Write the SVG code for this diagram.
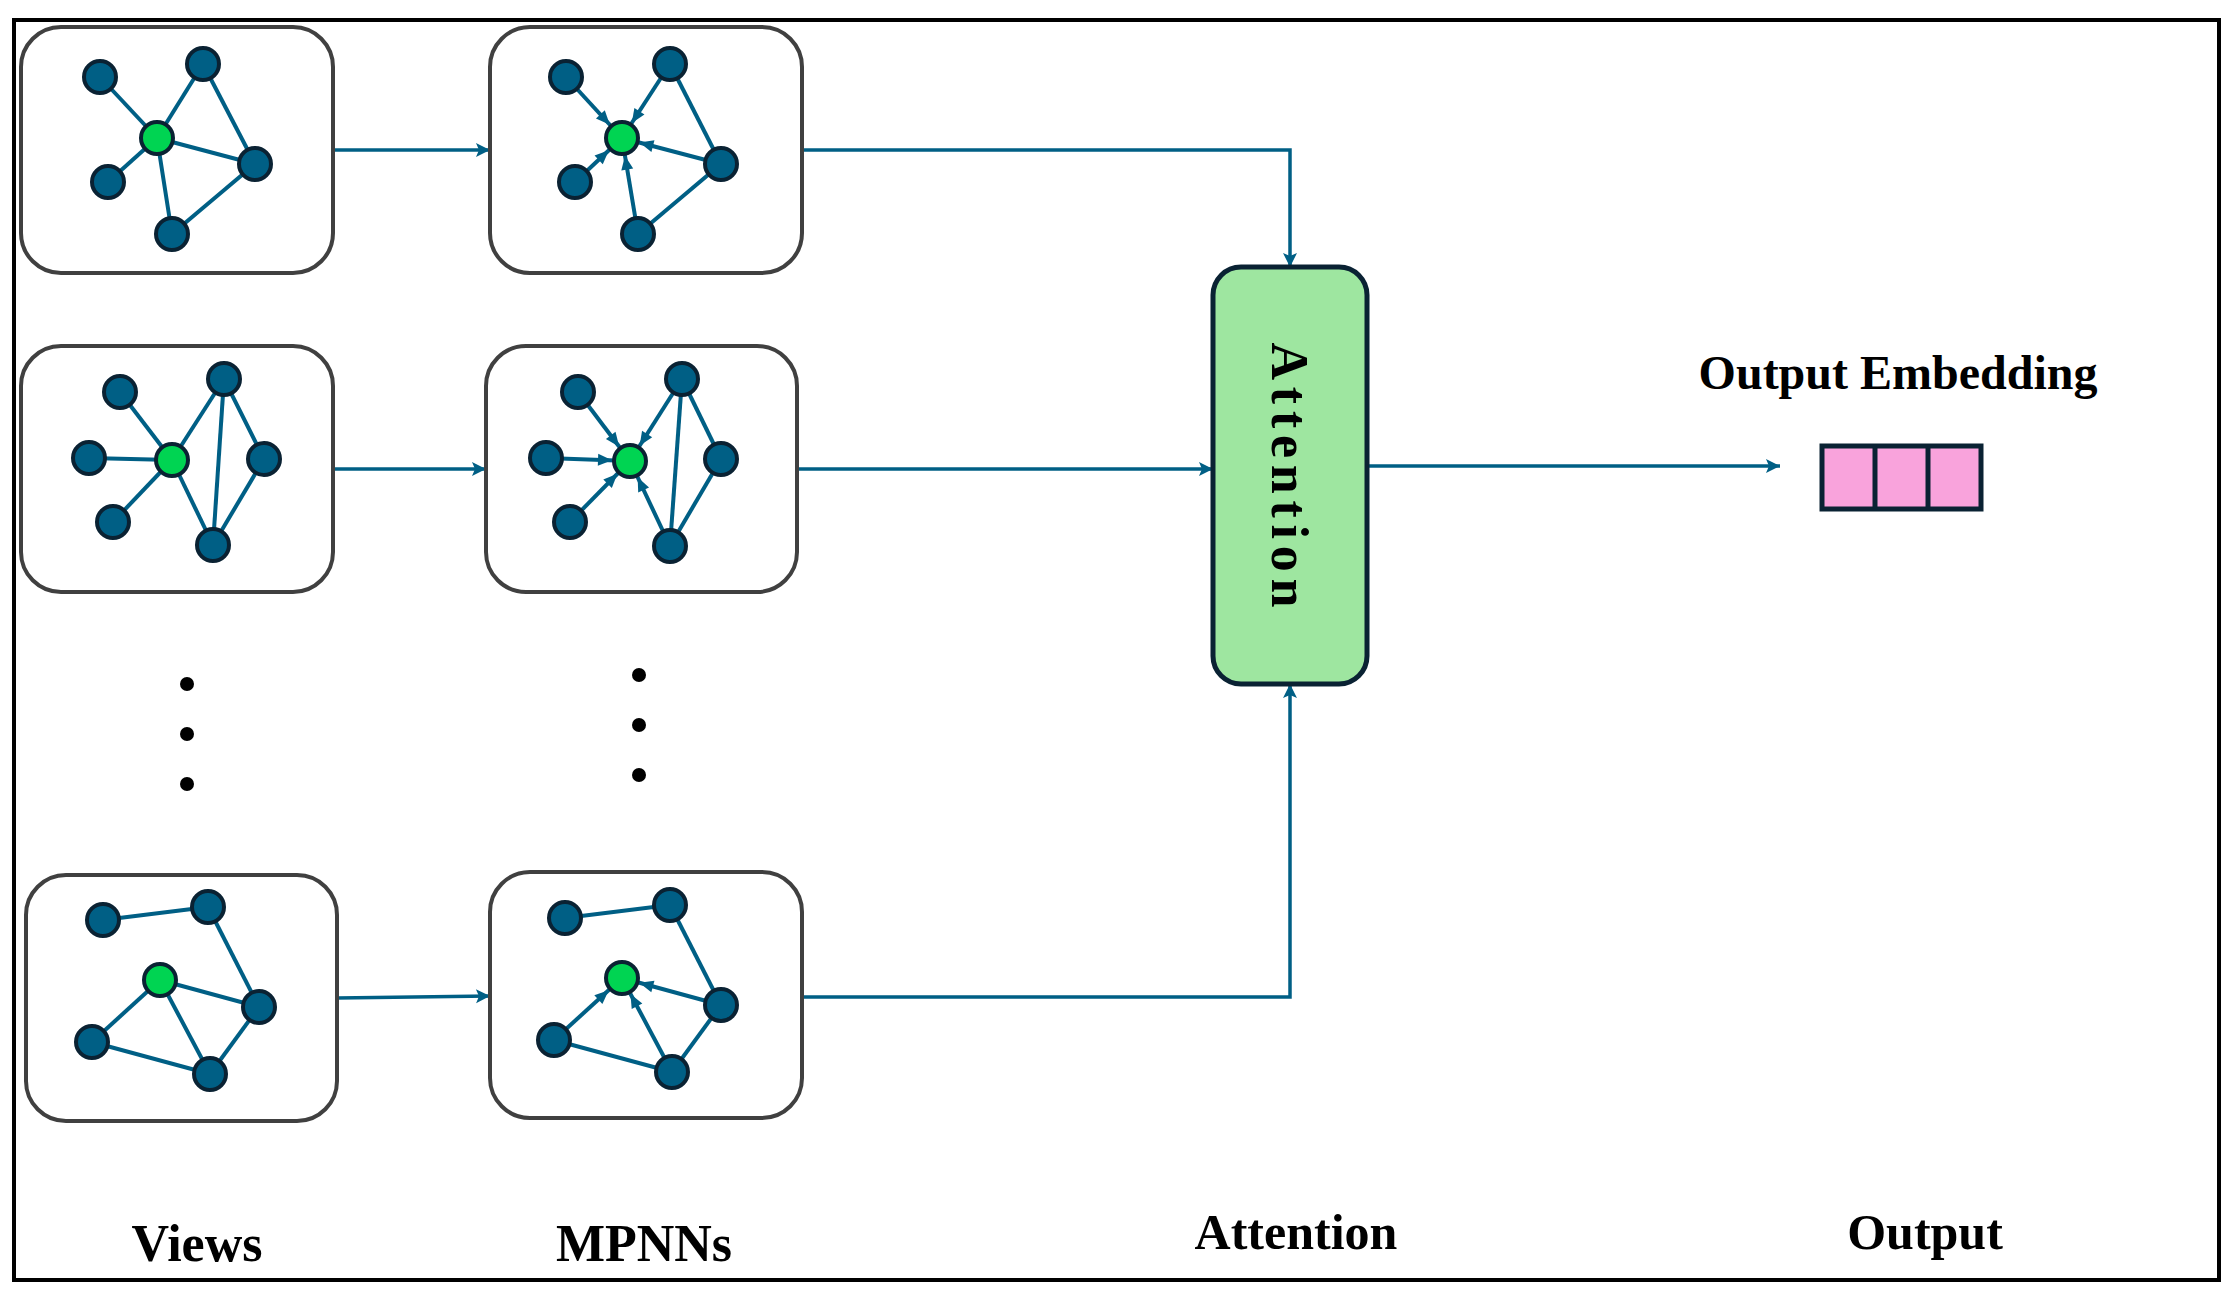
<svg xmlns="http://www.w3.org/2000/svg" width="2231" height="1293" viewBox="0 0 2231 1293">
<style>
.panel{fill:#fff;stroke:#404040;stroke-width:4}
.e{stroke:#005F85;stroke-width:4;fill:none}
.ea{stroke:#005F85;stroke-width:4;fill:none;marker-end:url(#small)}
.n{fill:#005F85;stroke:#0A2233;stroke-width:4}
.g{fill:#00D452;stroke:#0A2233;stroke-width:4}
.c{stroke:#005F85;stroke-width:3.5;fill:none;marker-end:url(#big)}
.lbl{font-family:"Liberation Serif","Times New Roman",serif;font-weight:bold;fill:#000;text-anchor:middle}
.dot{fill:#000}
</style>
<defs>
<marker id="small" markerUnits="userSpaceOnUse" markerWidth="60" markerHeight="20" refX="32" refY="6" orient="auto" overflow="visible"><path d="M0,0 L14,6 L0,12 z" fill="#005F85"/></marker>
<marker id="big" markerUnits="userSpaceOnUse" markerWidth="20" markerHeight="20" refX="14" refY="7" orient="auto" overflow="visible"><path d="M0,0 L14,7 L0,14 L3,7 z" fill="#005F85"/></marker>
</defs>
<rect x="14" y="20" width="2205" height="1260" fill="#fff" stroke="#000" stroke-width="4"/>

<g id="connectors">
<line class="c" x1="333" y1="150" x2="490" y2="150"/>
<polyline class="c" points="802,150 1290,150 1290,267"/>
<line class="c" x1="333" y1="469" x2="486" y2="469"/>
<line class="c" x1="797" y1="469" x2="1213" y2="469"/>
<line class="c" x1="337" y1="998" x2="490" y2="996"/>
<polyline class="c" points="802,997 1290,997 1290,684"/>
<line class="c" x1="1367" y1="466" x2="1780" y2="466"/>
</g>

<g id="view1">
<rect class="panel" x="21" y="27" width="312" height="246" rx="40"/>
<line class="e" x1="100" y1="77" x2="157" y2="138"/><line class="e" x1="157" y1="138" x2="203" y2="64"/><line class="e" x1="203" y1="64" x2="255" y2="164"/><line class="e" x1="157" y1="138" x2="255" y2="164"/><line class="e" x1="157" y1="138" x2="108" y2="182"/><line class="e" x1="157" y1="138" x2="172" y2="234"/><line class="e" x1="172" y1="234" x2="255" y2="164"/>
<circle class="n" cx="100" cy="77" r="16"/><circle class="n" cx="203" cy="64" r="16"/><circle class="n" cx="108" cy="182" r="16"/><circle class="n" cx="255" cy="164" r="16"/><circle class="n" cx="172" cy="234" r="16"/><circle class="g" cx="157" cy="138" r="16"/>
</g>
<g id="mpnn1">
<rect class="panel" x="490" y="27" width="312" height="246" rx="40"/>
<line class="e" x1="670" y1="64" x2="721" y2="164"/><line class="e" x1="638" y1="234" x2="721" y2="164"/>
<line class="ea" x1="566" y1="77" x2="622" y2="138"/><line class="ea" x1="670" y1="64" x2="622" y2="138"/><line class="ea" x1="721" y1="164" x2="622" y2="138"/><line class="ea" x1="575" y1="182" x2="622" y2="138"/><line class="ea" x1="638" y1="234" x2="622" y2="138"/>
<circle class="n" cx="566" cy="77" r="16"/><circle class="n" cx="670" cy="64" r="16"/><circle class="n" cx="575" cy="182" r="16"/><circle class="n" cx="721" cy="164" r="16"/><circle class="n" cx="638" cy="234" r="16"/><circle class="g" cx="622" cy="138" r="16"/>
</g>

<g id="view2">
<rect class="panel" x="21" y="346" width="312" height="246" rx="40"/>
<line class="e" x1="120" y1="392" x2="172" y2="460"/><line class="e" x1="89" y1="458" x2="172" y2="460"/><line class="e" x1="113" y1="522" x2="172" y2="460"/><line class="e" x1="172" y1="460" x2="224" y2="379"/><line class="e" x1="224" y1="379" x2="213" y2="545"/><line class="e" x1="224" y1="379" x2="264" y2="459"/><line class="e" x1="264" y1="459" x2="213" y2="545"/><line class="e" x1="172" y1="460" x2="213" y2="545"/>
<circle class="n" cx="120" cy="392" r="16"/><circle class="n" cx="224" cy="379" r="16"/><circle class="n" cx="89" cy="458" r="16"/><circle class="n" cx="113" cy="522" r="16"/><circle class="n" cx="264" cy="459" r="16"/><circle class="n" cx="213" cy="545" r="16"/><circle class="g" cx="172" cy="460" r="16"/>
</g>
<g id="mpnn2">
<rect class="panel" x="486" y="346" width="311" height="246" rx="40"/>
<line class="e" x1="682" y1="379" x2="670" y2="546"/><line class="e" x1="682" y1="379" x2="721" y2="459"/><line class="e" x1="721" y1="459" x2="670" y2="546"/>
<line class="ea" x1="578" y1="392" x2="630" y2="461"/><line class="ea" x1="546" y1="458" x2="630" y2="461"/><line class="ea" x1="570" y1="522" x2="630" y2="461"/><line class="ea" x1="682" y1="379" x2="630" y2="461"/><line class="ea" x1="670" y1="546" x2="630" y2="461"/>
<circle class="n" cx="578" cy="392" r="16"/><circle class="n" cx="682" cy="379" r="16"/><circle class="n" cx="546" cy="458" r="16"/><circle class="n" cx="570" cy="522" r="16"/><circle class="n" cx="721" cy="459" r="16"/><circle class="n" cx="670" cy="546" r="16"/><circle class="g" cx="630" cy="461" r="16"/>
</g>

<g id="dots">
<circle class="dot" cx="187" cy="684" r="7"/><circle class="dot" cx="187" cy="734" r="7"/><circle class="dot" cx="187" cy="784" r="7"/>
<circle class="dot" cx="639" cy="675" r="7"/><circle class="dot" cx="639" cy="725" r="7"/><circle class="dot" cx="639" cy="775" r="7"/>
</g>

<g id="view3">
<rect class="panel" x="26" y="875" width="311" height="246" rx="40"/>
<line class="e" x1="103" y1="920" x2="208" y2="907"/><line class="e" x1="208" y1="907" x2="259" y2="1007"/><line class="e" x1="160" y1="980" x2="259" y2="1007"/><line class="e" x1="160" y1="980" x2="92" y2="1042"/><line class="e" x1="160" y1="980" x2="210" y2="1074"/><line class="e" x1="92" y1="1042" x2="210" y2="1074"/><line class="e" x1="210" y1="1074" x2="259" y2="1007"/>
<circle class="n" cx="103" cy="920" r="16"/><circle class="n" cx="208" cy="907" r="16"/><circle class="n" cx="92" cy="1042" r="16"/><circle class="n" cx="259" cy="1007" r="16"/><circle class="n" cx="210" cy="1074" r="16"/><circle class="g" cx="160" cy="980" r="16"/>
</g>
<g id="mpnn3">
<rect class="panel" x="490" y="872" width="312" height="246" rx="40"/>
<line class="e" x1="565" y1="918" x2="670" y2="905"/><line class="e" x1="670" y1="905" x2="721" y2="1005"/><line class="e" x1="554" y1="1040" x2="672" y2="1072"/><line class="e" x1="672" y1="1072" x2="721" y2="1005"/>
<line class="ea" x1="554" y1="1040" x2="622" y2="978"/><line class="ea" x1="672" y1="1072" x2="622" y2="978"/><line class="ea" x1="721" y1="1005" x2="622" y2="978"/>
<circle class="n" cx="565" cy="918" r="16"/><circle class="n" cx="670" cy="905" r="16"/><circle class="n" cx="554" cy="1040" r="16"/><circle class="n" cx="721" cy="1005" r="16"/><circle class="n" cx="672" cy="1072" r="16"/><circle class="g" cx="622" cy="978" r="16"/>
</g>

<g id="attention">
<rect x="1213" y="267" width="154" height="417" rx="28" fill="#9EE6A0" stroke="#0A2233" stroke-width="5"/>
<text class="lbl" transform="translate(1290,475) rotate(90)" y="18" font-size="52" textLength="265" lengthAdjust="spacing">Attention</text>
</g>

<g id="output">
<text class="lbl" x="1898" y="389" font-size="48">Output Embedding</text>
<rect x="1822" y="446" width="159" height="63" fill="#F9A3DC" stroke="#0A2233" stroke-width="5"/>
<line x1="1875" y1="446" x2="1875" y2="509" stroke="#0A2233" stroke-width="5"/>
<line x1="1928" y1="446" x2="1928" y2="509" stroke="#0A2233" stroke-width="5"/>
</g>

<g id="labels">
<text class="lbl" x="197" y="1261" font-size="52">Views</text>
<text class="lbl" x="644" y="1261" font-size="52">MPNNs</text>
<text class="lbl" x="1296" y="1249" font-size="50">Attention</text>
<text class="lbl" x="1925" y="1249" font-size="50">Output</text>
</g>
</svg>
